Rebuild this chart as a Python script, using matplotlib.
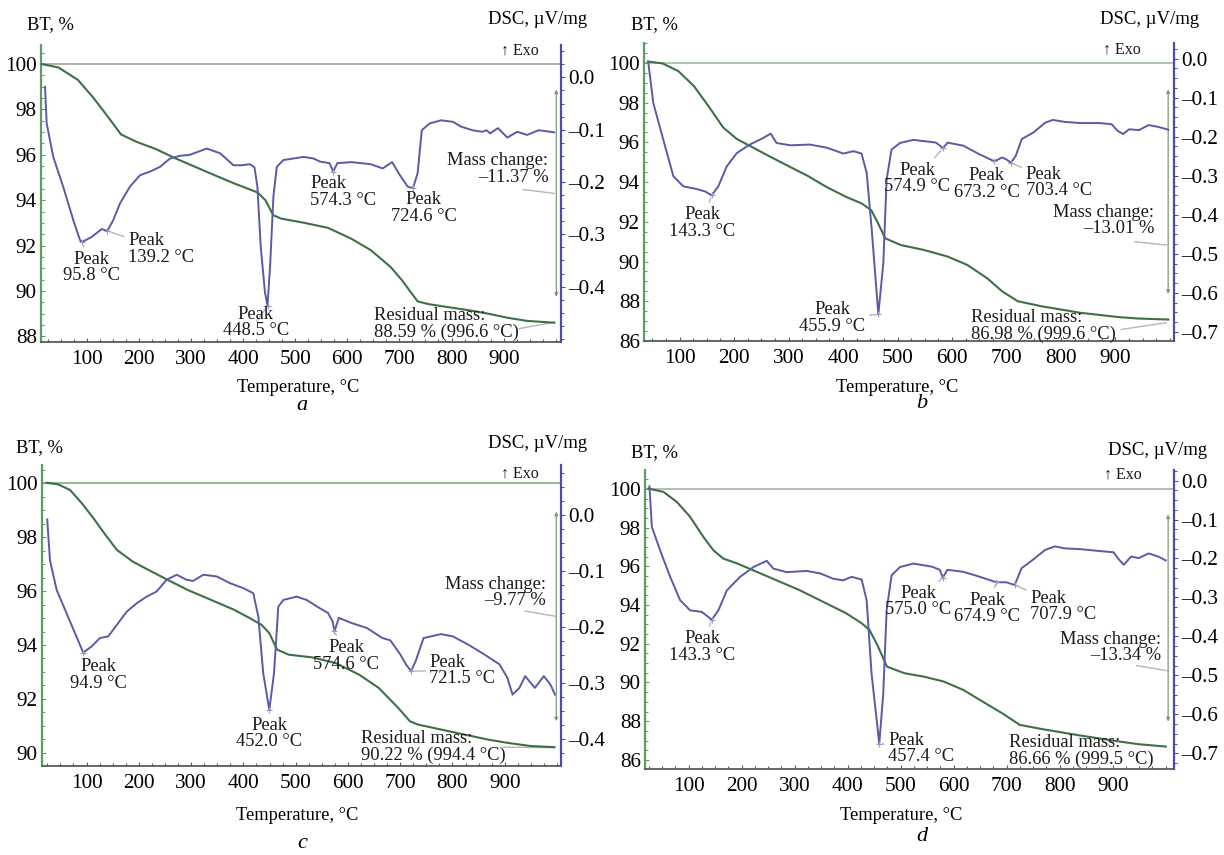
import numpy as np
import matplotlib.pyplot as plt
from matplotlib.ticker import MultipleLocator, FuncFormatter

plt.rcParams['font.family'] = ['Liberation Serif', 'DejaVu Serif']

# ---------------- panel a ----------------
tg_a_t = [14, 46, 83.5, 113.5, 143.4, 165.9, 195.9, 233.3, 270.8, 308.2, 345.7, 383, 428, 443, 458,
          473, 518, 563, 608, 645, 683, 705, 724, 735, 758, 833, 870, 907, 945, 997]
tg_a_bt = [100, 99.85, 99.3, 98.5, 97.6, 96.9, 96.57, 96.25, 95.84, 95.47, 95.1, 94.74, 94.34, 94.0, 93.34,
           93.19, 93.0, 92.78, 92.3, 91.8, 91.06, 90.47, 89.88, 89.54, 89.41, 89.15, 89.0, 88.82, 88.68, 88.6]
dsc_a_t = [20.2, 23.4, 36, 55, 74.5, 87.3, 91, 109.8, 129, 139.8, 151, 164, 183, 202.5, 221.7, 240.9,
           260, 279, 298, 330.5, 356, 381.6, 397, 413.6, 422, 427.6, 434, 442, 447, 452, 458.3, 464.8,
           477.5, 497, 516, 535, 548, 566, 573, 581, 608, 645, 668, 686, 701, 716, 726, 735, 743, 758,
           780, 803, 818, 840, 859, 867, 874, 889, 907, 926, 945, 967, 997]
dsc_a_val = [-0.018, -0.088, -0.152, -0.209, -0.273, -0.311, -0.315, -0.305, -0.290, -0.2935, -0.273,
             -0.241, -0.209, -0.187, -0.180, -0.171, -0.155, -0.150, -0.148, -0.136, -0.145, -0.168,
             -0.168, -0.166, -0.172, -0.209, -0.324, -0.41, -0.437, -0.36, -0.228, -0.171, -0.158,
             -0.155, -0.152, -0.155, -0.161, -0.164, -0.18, -0.164, -0.162, -0.166, -0.174, -0.162,
             -0.187, -0.209, -0.212, -0.183, -0.101, -0.088, -0.082, -0.085, -0.094, -0.101, -0.104,
             -0.101, -0.107, -0.097, -0.115, -0.104, -0.11, -0.101, -0.105]
peaks_a = [95.8, 139.2, 448.5, 574.3, 724.6]
mass_change_a = -11.37
residual_a = 88.59
residual_a_t = 996.6

# ---------------- panel b ----------------
tg_b_t = [42, 69, 98, 126.5, 155, 180, 205, 234, 262.6, 298, 334, 370, 406, 434.5, 452, 463, 477.4,
          506, 549, 592, 628, 664, 692, 720.9, 764, 835.5, 907, 943, 997]
tg_b_bt = [100.07, 99.97, 99.58, 98.83, 97.75, 96.75, 96.17, 95.75, 95.33, 94.83, 94.33, 93.75, 93.25,
           92.92, 92.58, 92.0, 91.17, 90.83, 90.58, 90.25, 89.83, 89.17, 88.5, 88.0, 87.75, 87.42, 87.2,
           87.13, 87.08]
dsc_b_t = [42.8, 51.9, 70.3, 88.6, 107, 131.5, 146.8, 159, 171.2, 186.6, 205, 229, 253.8, 267.3, 278,
           304, 339.4, 370, 400.6, 419, 434, 443.5, 452.7, 464.8, 474, 480, 489, 504.6, 529, 570.6,
           583.4, 592, 621, 649, 678, 692, 701, 708, 717, 728, 749.6, 771, 785, 807, 835.5, 871, 893,
           904, 914, 925, 943, 961, 979, 997]
dsc_b_val = [-0.0115, -0.114, -0.208, -0.301, -0.327, -0.334, -0.34, -0.350, -0.327, -0.276, -0.242,
             -0.220, -0.203, -0.192, -0.216, -0.222, -0.220, -0.228, -0.243, -0.237, -0.243, -0.293,
             -0.438, -0.655, -0.523, -0.31, -0.233, -0.216, -0.208, -0.215, -0.229, -0.215, -0.223,
             -0.244, -0.263, -0.253, -0.259, -0.267, -0.249, -0.206, -0.189, -0.164, -0.157, -0.162,
             -0.165, -0.165, -0.168, -0.185, -0.193, -0.181, -0.183, -0.170, -0.175, -0.182]
peaks_b = [143.3, 455.9, 574.9, 673.2, 703.4]
mass_change_b = -13.01
residual_b = 86.98
residual_b_t = 999.6

# ---------------- panel c ----------------
tg_c_t = [23.8, 46, 68.6, 91, 113.4, 136, 158, 188, 218, 255, 292.7, 337.5, 382, 412, 434.7, 449.6,
          464.5, 487, 531.8, 576.6, 621.4, 658.8, 696, 718.5, 733.5, 793, 868, 905, 950, 995]
tg_c_bt = [100.02, 99.96, 99.75, 99.26, 98.70, 98.09, 97.53, 97.10, 96.79, 96.42, 96.05, 95.68, 95.31,
           95.0, 94.75, 94.44, 93.83, 93.64, 93.54, 93.33, 92.90, 92.41, 91.67, 91.17, 91.05, 90.80,
           90.49, 90.37, 90.25, 90.21]
dsc_c_t = [24.8, 30, 42.8, 61.9, 77.8, 93.7, 109.8, 125.6, 141.5, 157.6, 176.7, 195.9, 215, 234, 253,
           272.4, 291.5, 304, 323.3, 349, 374.4, 400, 419, 428.6, 438, 449.6, 458.6, 466.8, 476.4, 502,
           521, 546.6, 561.7, 570.6, 574.3, 582.6, 606.5, 636, 666, 681, 700, 711, 720.8, 729.7,
           744.7, 778, 800.7, 830.6, 860.5, 890, 905, 915, 928, 939, 957.6, 974.7, 987.4, 996]
dsc_c_val = [-0.007, -0.080, -0.133, -0.175, -0.210, -0.245, -0.234, -0.219, -0.216, -0.196, -0.172,
             -0.157, -0.145, -0.136, -0.115, -0.106, -0.115, -0.117, -0.106, -0.109, -0.121, -0.130,
             -0.139, -0.181, -0.282, -0.347, -0.282, -0.163, -0.151, -0.145, -0.151, -0.166, -0.174,
             -0.189, -0.207, -0.183, -0.192, -0.201, -0.219, -0.223, -0.248, -0.266, -0.278, -0.260,
             -0.219, -0.212, -0.216, -0.231, -0.248, -0.266, -0.290, -0.320, -0.308, -0.287, -0.308,
             -0.287, -0.302, -0.320]
peaks_c = [94.9, 452.0, 574.6, 721.5]
mass_change_c = -9.77
residual_c = 90.22
residual_c_t = 994.4

# ---------------- panel d ----------------
tg_d_t = [24, 52.3, 77.6, 102.6, 127.7, 146.6, 165.4, 190.6, 227.4, 264, 308.5, 352.7, 396.9, 426.3,
          441, 455.8, 474, 507, 544, 581, 617.8, 654.7, 691.5, 724.6, 765, 838.8, 912.5, 949, 1000]
tg_d_bt = [100.02, 99.85, 99.33, 98.56, 97.52, 96.83, 96.40, 96.16, 95.73, 95.3, 94.78, 94.18, 93.58,
           93.06, 92.72, 91.94, 90.82, 90.48, 90.30, 90.05, 89.62, 89.01, 88.41, 87.81, 87.6, 87.26,
           86.95, 86.81, 86.69]
dsc_d_t = [25.9, 30.4, 46, 65, 83.8, 102.6, 124.7, 143.5, 156, 171.8, 196.9, 222, 247.2, 259.7, 284.9,
           322.6, 347.7, 372.8, 391.6, 407.3, 426.2, 435.7, 445, 459.5, 467, 473.4, 482.8, 498.5,
           523.6, 559, 573.6, 579.5, 588, 617.8, 647, 680.4, 699, 715, 728, 746.7, 772.5, 791, 809,
           838.8, 875.6, 901.4, 912.5, 921, 934.6, 949, 967.7, 986, 1000]
dsc_d_val = [-0.0146, -0.119, -0.179, -0.247, -0.307, -0.333, -0.337, -0.357, -0.333, -0.282, -0.247,
             -0.222, -0.206, -0.226, -0.235, -0.232, -0.238, -0.252, -0.256, -0.247, -0.254, -0.307,
             -0.496, -0.675, -0.547, -0.333, -0.243, -0.222, -0.213, -0.221, -0.229, -0.249, -0.229,
             -0.234, -0.246, -0.261, -0.261, -0.268, -0.225, -0.206, -0.178, -0.169, -0.174, -0.176,
             -0.181, -0.184, -0.204, -0.216, -0.195, -0.199, -0.187, -0.195, -0.205]
peaks_d = [143.3, 457.4, 575.0, 674.9, 707.9]
mass_change_d = -13.34
residual_d = 86.66
residual_d_t = 999.5

# ---------------- layout (positions only) ----------------
layout = {
    'a': dict(rect=[41, 45, 561, 342], xlim=(12.5, 1010), bt=(87.75, 100.84), dsc=(-0.506, 0.062),
              bt_ticks=(88, 100), dsc_ticks=(-0.4, 0.0), base='#a3aba3',
              peak_txt=[(110, -0.364, 'center'), (179.5, -0.328, 'left'), (424.5, -0.469, 'center'),
                        (529, -0.219, 'left'), (747, -0.250, 'center')],
              exo=(967, 100.59), mass_txt=(986, 95.37), mass_lead=((937.5, 94.47), (997, 94.3)),
              res_txt=(651, 88.53), res_lead=((929.8, 88.34), (997.5, 88.63)),
              arrow=(1001, 98.88, 89.74),
              bt_lab=(27, 25), dsc_lab=(587, 20), t_lab=(298.6, 387), letter=(302, 405)),
    'b': dict(rect=[644, 43, 1174, 341], xlim=(34.8, 1007.4), bt=(86.0, 101.0), dsc=(-0.723, 0.040),
              bt_ticks=(86, 100), dsc_ticks=(-0.7, 0.0), base='#a9c2a9',
              peak_txt=[(142.3, -0.421, 'center'), (380.8, -0.664, 'center'), (536, -0.307, 'center'),
                        (663.7, -0.321, 'center'), (735, -0.317, 'left')],
              exo=(946.6, 100.67), mass_txt=(971.6, 92.08), mass_lead=((935.8, 91.0), (993, 90.83)),
              res_txt=(635, 86.75), res_lead=((910.7, 86.58), (993, 86.92)),
              arrow=(996.7, 98.67, 88.37),
              bt_lab=(631, 25), dsc_lab=(1199, 20), t_lab=(897, 387), letter=(922, 403)),
    'c': dict(rect=[42, 465, 561, 766], xlim=(14.8, 1007.6), bt=(89.51, 100.68), dsc=(-0.4475, 0.090),
              bt_ticks=(90, 100), dsc_ticks=(-0.4, 0.0), base='#86b486',
              peak_txt=[(122.4, -0.285, 'center'), (449.6, -0.390, 'center'), (596.7, -0.251, 'center'),
                        (755.9, -0.277, 'left')],
              exo=(965, 100.37), mass_txt=(978.5, 95.95), mass_lead=((938.9, 95.26), (998.6, 95.06)),
              res_txt=(625, 90.21), res_lead=((897.8, 90.21), (995, 90.19)),
              arrow=(998.6, 98.95, 91.17),
              bt_lab=(16, 448), dsc_lab=(587, 443), t_lab=(297, 815), letter=(302, 843)),
    'd': dict(rect=[645, 470, 1174, 769], xlim=(17.5, 1015.6), bt=(85.53, 100.98), dsc=(-0.740, 0.027),
              bt_ticks=(86, 100), dsc_ticks=(-0.7, 0.0), base='#a9bba9',
              peak_txt=[(125.8, -0.427, 'center'), (476.4, -0.687, 'left'), (533, -0.311, 'center'),
                        (663.5, -0.328, 'center'), (744.5, -0.323, 'left')],
              exo=(954.5, 100.77), mass_txt=(992, 91.82), mass_lead=((945.6, 90.87), (1004.5, 90.6)),
              res_txt=(704.8, 86.45), res_lead=None,
              arrow=(1004.5, 98.69, 87.98),
              bt_lab=(631, 453), dsc_lab=(1207, 450), t_lab=(901, 815), letter=(922, 836)),
}

panels = {
    'a': (tg_a_t, tg_a_bt, dsc_a_t, dsc_a_val, peaks_a, mass_change_a, residual_a, residual_a_t),
    'b': (tg_b_t, tg_b_bt, dsc_b_t, dsc_b_val, peaks_b, mass_change_b, residual_b, residual_b_t),
    'c': (tg_c_t, tg_c_bt, dsc_c_t, dsc_c_val, peaks_c, mass_change_c, residual_c, residual_c_t),
    'd': (tg_d_t, tg_d_bt, dsc_d_t, dsc_d_val, peaks_d, mass_change_d, residual_d, residual_d_t),
}

W, H = 1224, 855
TG_COL = '#3f6f47'
DSC_COL = '#5a5aa8'
LEFT_SPINE = '#5e9c62'
RIGHT_SPINE = '#4d4da6'
LEAD = '#b5b5b5'
TXT = 13.3


def fx(px):
    return px / W


def fy(py):
    return 1 - py / H


def dsc_fmt(v, _):
    if abs(v) < 1e-9:
        return '0.0'
    return '\u2013%.1f' % abs(v)


fig = plt.figure(figsize=(W / 100, H / 100), dpi=100)

for key in ['a', 'b', 'c', 'd']:
    L = layout[key]
    tg_t, tg_bt, dsc_t, dsc_v, peaks, mchange, resid, resid_t = panels[key]
    x0, y0, x1, y1 = L['rect']
    ax = fig.add_axes([fx(x0), fy(y1), fx(x1 - x0), (y1 - y0) / H])
    ax2 = ax.twinx()

    ax.set_xlim(*L['xlim'])
    ax.set_ylim(*L['bt'])
    ax2.set_ylim(*L['dsc'])

    ax.axhline(100, color=L['base'], lw=1.3, zorder=1)
    ax.plot(tg_t, tg_bt, color=TG_COL, lw=1.5, zorder=3)
    ax2.plot(dsc_t, dsc_v, color=DSC_COL, lw=1.4, zorder=3)

    # peak markers at the local minimum of the DSC curve around each labelled peak
    dt = np.array(dsc_t)
    dv = np.array(dsc_v)
    for p, (tx, ty, ha) in zip(peaks, L['peak_txt']):
        win = np.abs(dt - p) <= 18
        i = np.where(win)[0][np.argmin(dv[win])]
        ax2.plot(dt[i], dv[i], marker='+', ms=5, mew=0.8, color='#9a9ab5', zorder=4)
        ax2.annotate('Peak\n%.1f \u00b0C' % p, xy=(dt[i], dv[i]), xytext=(tx, ty),
                     ha=ha, va='center', fontsize=TXT, linespacing=0.95, color='#1a1a1a',
                     arrowprops=dict(arrowstyle='-', color=LEAD, lw=1.0, shrinkA=1, shrinkB=2),
                     zorder=5)

    # mass change / residual mass
    ax.text(L['mass_txt'][0], L['mass_txt'][1], 'Mass change:\n\u2013%.2f %%' % abs(mchange),
            ha='right', va='center', fontsize=TXT, linespacing=0.95, color='#1a1a1a')
    (lx0, ly0), (lx1, ly1) = L['mass_lead']
    ax.plot([lx0, lx1], [ly0, ly1], color=LEAD, lw=1.0)
    ax.text(L['res_txt'][0], L['res_txt'][1],
            'Residual mass:\n%.2f %% (%.1f \u00b0C)' % (resid, resid_t),
            ha='left', va='center', fontsize=TXT, linespacing=0.95, color='#1a1a1a')
    if L['res_lead'] is not None:
        (lx0, ly0), (lx1, ly1) = L['res_lead']
        ax.plot([lx0, lx1], [ly0, ly1], color=LEAD, lw=1.0)

    ax_x, top, bot = L['arrow']
    ax.annotate('', xy=(ax_x, bot), xytext=(ax_x, top),
                arrowprops=dict(arrowstyle='<|-|>', color='#7d9a7d', lw=0.9,
                                mutation_scale=5, shrinkA=0, shrinkB=0))

    ax.text(L['exo'][0], L['exo'][1], '\u2191 Exo', ha='right', va='center', fontsize=11.5,
            color='#1a1a1a')

    # axes styling
    for s in ['top', 'right']:
        ax.spines[s].set_visible(False)
    for s in ['top', 'left', 'bottom']:
        ax2.spines[s].set_visible(False)
    ax.spines['left'].set_color(LEFT_SPINE)
    ax.spines['left'].set_linewidth(1.6)
    ax.spines['bottom'].set_color('#5a5a5a')
    ax.spines['bottom'].set_linewidth(1.3)
    ax2.spines['right'].set_color(RIGHT_SPINE)
    ax2.spines['right'].set_linewidth(1.6)

    ax.set_xticks(np.arange(100, 901, 100))
    ax.xaxis.set_minor_locator(MultipleLocator(25))
    lo, hi = L['bt_ticks']
    ax.set_yticks(np.arange(lo, hi + 0.1, 2))
    ax.yaxis.set_minor_locator(MultipleLocator(0.5))
    dlo, dhi = L['dsc_ticks']
    ax2.set_yticks(np.round(np.arange(dlo, dhi + 0.01, 0.1), 2))
    ax2.yaxis.set_minor_locator(MultipleLocator(0.025))
    ax2.yaxis.set_major_formatter(FuncFormatter(dsc_fmt))

    ax.tick_params(axis='x', which='major', direction='in', length=3, width=0.8, color='#5a5a5a',
                   labelsize=15.3, pad=6)
    ax.tick_params(axis='x', which='minor', direction='in', length=2, width=0.8, color='#5a5a5a')
    ax.tick_params(axis='y', which='major', direction='in', length=3, width=0.8, color=LEFT_SPINE,
                   labelsize=15.3, pad=3)
    ax.tick_params(axis='y', which='minor', direction='in', length=2, width=0.7, color=LEFT_SPINE)
    ax2.tick_params(axis='y', which='major', direction='out', length=3, width=0.8, color=RIGHT_SPINE,
                    labelsize=15.3, pad=2)
    ax2.tick_params(axis='y', which='minor', direction='out', length=2, width=0.7, color=RIGHT_SPINE)

    # panel labels
    fig.text(fx(L['bt_lab'][0]), fy(L['bt_lab'][1]), 'BT, %', ha='left', va='center', fontsize=13.3)
    fig.text(fx(L['dsc_lab'][0]), fy(L['dsc_lab'][1]), 'DSC, \u00b5V/mg', ha='right', va='center',
             fontsize=13.5)
    fig.text(fx(L['t_lab'][0]), fy(L['t_lab'][1]), 'Temperature, \u00b0C', ha='center', va='center',
             fontsize=13.3)
    fig.text(fx(L['letter'][0]), fy(L['letter'][1]), key, ha='center', va='center', fontsize=16,
             style='italic')

fig.savefig('out.png', dpi=100)
